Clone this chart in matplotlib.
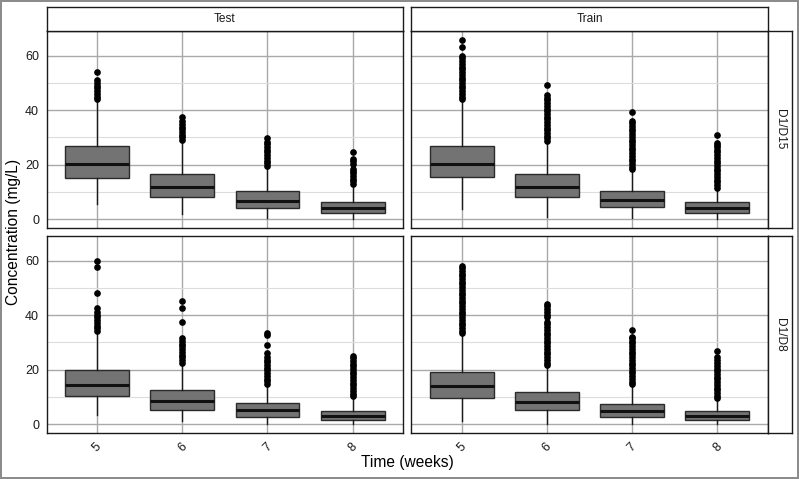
import matplotlib
matplotlib.use("Agg")
import matplotlib.pyplot as plt
from matplotlib.ticker import FixedLocator

plt.rcParams["font.family"] = ["Liberation Sans", "DejaVu Sans"]

# ── data ───────────────────────────────────────────────────────
weeks      = [5, 6, 7, 8]
week_lbls  = ["5", "6", "7", "8"]
col_labels = ["Test", "Train"]
row_labels = ["D1/D15", "D1/D8"]

# Test, D1/D15
test_d15_q1  = [15.2, 8.1, 4.2, 2.1]
test_d15_med = [20.2, 11.8, 6.6, 3.9]
test_d15_q3  = [26.9, 16.5, 10.3, 6.4]
test_d15_lo  = [5.5, 2.0, 0.3, 0.0]
test_d15_hi  = [43.6, 28.6, 19.1, 12.4]
test_d15_out = [
    [44, 45, 46, 47, 48, 49, 50, 51, 53.9],
    [29, 30, 31, 32, 33, 34, 35, 36, 37.4],
    [19.5, 20.5, 21.5, 22.5, 23.5, 24.5, 25.5, 26.5, 27.5, 28.3, 29.9],
    [12.8, 13.8, 14.8, 15.8, 16.8, 17.8, 18.5, 20.2, 21.2, 22.1, 24.8],
]

# Train, D1/D15
train_d15_q1  = [15.3, 8.2, 4.4, 2.3]
train_d15_med = [20.2, 11.8, 6.9, 3.9]
train_d15_q3  = [26.9, 16.5, 10.2, 6.3]
train_d15_lo  = [3.5, 0.85, 0.3, 0.0]
train_d15_hi  = [43.5, 28.2, 17.8, 11.1]
train_d15_out = [
    [44, 45, 46, 47, 48, 49, 50, 51, 52, 53, 54, 55, 56, 57, 58, 59, 59.9, 63.1, 65.8],
    [28.6, 29.6, 30.6, 31.6, 32.6, 33.6, 34.6, 35.6, 36.6, 37.6, 38.6, 39.6, 40.6,
     41.6, 42.6, 43.6, 44.6, 45.6, 49.3],
    [18.2, 19.2, 20.2, 21.2, 22.2, 23.2, 24.2, 25.2, 26.2, 27.2, 28.2, 29.2, 30.2,
     31.2, 32.2, 33.2, 34.2, 35.2, 36.2, 39.2],
    [11.5, 12.5, 13.5, 14.5, 15.5, 16.5, 17.5, 18.5, 19.5, 20.5, 21.5, 22.5, 23.5,
     24.5, 25.5, 26.5, 27.2, 27.8, 30.9],
]

# Test, D1/D8
test_d8_q1  = [10.2, 5.3, 2.7, 1.4]
test_d8_med = [14.3, 8.3, 5.0, 3.1]
test_d8_q3  = [19.9, 12.4, 7.7, 4.9]
test_d8_lo  = [3.3, 1.1, 0.0, 0.0]
test_d8_hi  = [33.9, 22.2, 14.4, 9.9]
test_d8_out = [
    [34.2, 35.2, 36.2, 37.2, 38.2, 39.2, 40.2, 41.2, 42.8, 48.3, 57.6, 60.0],
    [22.5, 23.5, 24.5, 25.5, 26.5, 27.5, 28.5, 29.5, 30.5, 31.5, 37.5, 42.8, 45.3],
    [14.7, 15.7, 16.7, 17.7, 18.7, 19.7, 20.7, 21.7, 22.7, 23.7, 24.5, 26.2, 29.0,
     32.6, 33.4],
    [10.2, 11.2, 12.2, 13.2, 14.2, 15.2, 16.2, 17.2, 18.2, 19.2, 20.2, 21.2, 22.2,
     23.2, 24.2, 25.0],
]

# Train, D1/D8
train_d8_q1  = [9.7, 5.0, 2.7, 1.4]
train_d8_med = [14.0, 8.1, 4.7, 2.8]
train_d8_q3  = [19.2, 11.8, 7.4, 4.7]
train_d8_lo  = [1.1, 0.0, 0.0, 0.0]
train_d8_hi  = [33.0, 21.3, 14.3, 9.2]
train_d8_out = [
    [33.3, 34.3, 35.3, 36.3, 37.3, 38.3, 39.3, 40.3, 41.3, 42.3, 43.3, 44.3, 45.3,
     46.3, 47.3, 48.3, 49.3, 50.3, 51.3, 52.3, 53.3, 54.3, 55.3, 56.3, 57.3, 58.0],
    [21.6, 22.6, 23.6, 24.6, 25.6, 26.6, 27.6, 28.6, 29.6, 30.6, 31.6, 32.6, 33.6,
     34.6, 35.6, 36.6, 37.6, 39.2, 40.2, 41.2, 42.2, 43.2, 44.2],
    [14.6, 15.6, 16.6, 17.6, 18.6, 19.6, 20.6, 21.6, 22.6, 23.6, 24.6, 25.6, 26.6,
     27.6, 28.6, 29.6, 30.6, 31.6, 32.1, 34.6],
    [9.4, 10.4, 11.4, 12.4, 13.4, 14.4, 15.4, 16.4, 17.4, 18.4, 19.4, 20.4, 21.4,
     22.4, 23.4, 24.5, 27.0],
]

panels = {
    (0, 0): (test_d15_q1, test_d15_med, test_d15_q3, test_d15_lo, test_d15_hi, test_d15_out),
    (0, 1): (train_d15_q1, train_d15_med, train_d15_q3, train_d15_lo, train_d15_hi, train_d15_out),
    (1, 0): (test_d8_q1, test_d8_med, test_d8_q3, test_d8_lo, test_d8_hi, test_d8_out),
    (1, 1): (train_d8_q1, train_d8_med, train_d8_q3, train_d8_lo, train_d8_hi, train_d8_out),
}

# ── layout (pixel geometry of the reference) ───────────────────
W, H = 799, 479
col_x = [(46.7, 403.0), (411.3, 767.7)]
row_y = [(31.0, 228.0), (236.0, 433.0)]
strip_top = 7.3
strip_right = 791.5

def px_rect(x0, x1, y0, y1):
    return [x0 / W, 1 - y1 / H, (x1 - x0) / W, (y1 - y0) / H]

fig = plt.figure(figsize=(W / 100, H / 100), dpi=100)
fig.patch.set_edgecolor("#8c8c8c")
fig.patch.set_linewidth(1.5)

for (r, c), (q1, med, q3, lo, hi, out) in panels.items():
    ax = fig.add_axes(px_rect(col_x[c][0], col_x[c][1], row_y[r][0], row_y[r][1]))
    stats = [dict(q1=q1[i], med=med[i], q3=q3[i], whislo=lo[i], whishi=hi[i],
                  fliers=out[i]) for i in range(len(weeks))]
    ax.bxp(stats, positions=weeks, widths=0.75, patch_artist=True, showcaps=False,
           boxprops=dict(facecolor="#737373", edgecolor="#2b2b2b", linewidth=1.0),
           medianprops=dict(color="#111111", linewidth=2.2),
           whiskerprops=dict(color="#1a1a1a", linewidth=1.0),
           flierprops=dict(marker="o", markerfacecolor="black",
                           markeredgecolor="black", markersize=3.8))
    ax.set_xlim(4.41, 8.59)
    ax.set_ylim(-3.3, 69.1)
    ax.set_xticks(weeks)
    ax.set_yticks([0, 20, 40, 60])
    ax.yaxis.set_minor_locator(FixedLocator([10, 30, 50]))
    ax.set_axisbelow(True)
    ax.grid(which="major", color="#a9a9a9", linewidth=1.0)
    ax.grid(which="minor", axis="y", color="#dcdcdc", linewidth=0.8)
    ax.tick_params(which="both", length=0, labelsize=9, colors="#1a1a1a", pad=5.5)
    for s in ax.spines.values():
        s.set_color("#1a1a1a"); s.set_linewidth(1.0)
    if c == 0:
        ax.set_yticklabels(["0", "20", "40", "60"])
    else:
        ax.set_yticklabels([])
    if r == 1:
        ax.set_xticklabels(week_lbls, rotation=45, ha="center", va="top")
    else:
        ax.set_xticklabels([])

# strips
for c, lbl in enumerate(col_labels):
    sa = fig.add_axes(px_rect(col_x[c][0], col_x[c][1], strip_top, row_y[0][0]))
    sa.set_xticks([]); sa.set_yticks([])
    for s in sa.spines.values():
        s.set_color("#1a1a1a"); s.set_linewidth(1.0)
    sa.text(0.5, 0.5, lbl, ha="center", va="center", fontsize=8.6,
            color="#1a1a1a", transform=sa.transAxes)

for r, lbl in enumerate(row_labels):
    sa = fig.add_axes(px_rect(col_x[1][1], strip_right, row_y[r][0], row_y[r][1]))
    sa.set_xticks([]); sa.set_yticks([])
    for s in sa.spines.values():
        s.set_color("#1a1a1a"); s.set_linewidth(1.0)
    sa.text(0.5, 0.5, lbl, ha="center", va="center", fontsize=8.6, rotation=-90,
            color="#1a1a1a", transform=sa.transAxes)

fig.text((col_x[0][0] + col_x[1][1]) / 2 / W, 1 - 463 / H, "Time (weeks)",
         ha="center", va="center", fontsize=11.2)
fig.text(14 / W, 1 - 232 / H, "Concentration (mg/L)", ha="center", va="center",
         rotation=90, fontsize=11.2)

fig.savefig("out.png", dpi=100)
